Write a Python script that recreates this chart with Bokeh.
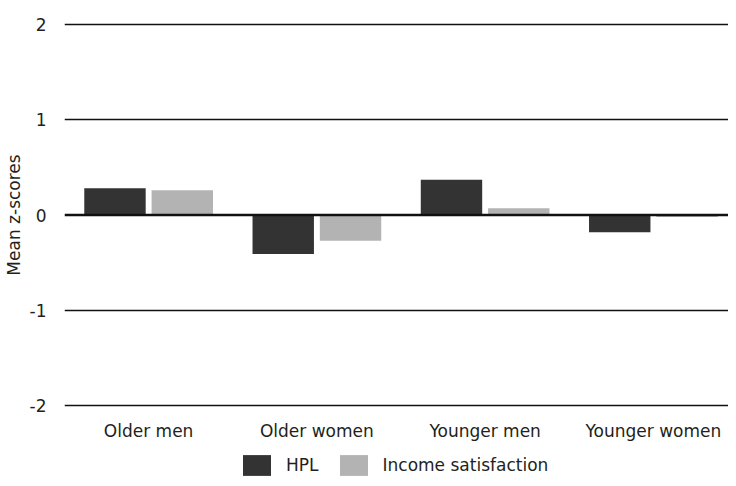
from bokeh.plotting import figure
from bokeh.layouts import column
from bokeh.models import Range1d, FixedTicker, Span, Legend, LegendItem, ColumnDataSource
from bokeh.transform import dodge
from bokeh.embed import file_html
from bokeh.resources import INLINE

categories = ["Older men", "Older women", "Younger men", "Younger women"]
hpl = [0.28, -0.41, 0.37, -0.18]
income = [0.26, -0.27, 0.07, -0.02]
y_ticks = [-2, -1, 0, 1, 2]
series = ["HPL", "Income satisfaction"]
colors = ["#333333", "#b3b3b3"]

x_pos = [i + 0.5 for i in range(len(categories))]
src = ColumnDataSource(dict(x=x_pos, hpl=hpl, income=income))

FONT = "DejaVu Sans"
TXT = "#231f20"

p = figure(width=728, height=443,
           x_range=Range1d(0, 663 / 168), y_range=Range1d(-2.02, 2.02),
           output_backend="svg", toolbar_location=None,
           min_border_left=57, min_border_top=22, min_border_right=0,
           min_border_bottom=36)
p.outline_line_color = None

p.vbar(x=dodge("x", -0.2, range=p.x_range), top="hpl", width=0.365,
       source=src, fill_color=colors[0], line_color=None)
p.vbar(x=dodge("x", 0.2, range=p.x_range), top="income", width=0.365,
       source=src, fill_color=colors[1], line_color=None)

p.add_layout(Span(location=0, dimension="width", line_color="#111111", line_width=2.5))

p.xgrid.visible = False
p.ygrid.ticker = FixedTicker(ticks=[t for t in y_ticks if t != 0])
p.ygrid.grid_line_color = "#111111"
p.ygrid.grid_line_width = 1.5

p.yaxis.ticker = FixedTicker(ticks=y_ticks)
p.yaxis.major_label_overrides = {t: str(t) for t in y_ticks}
p.yaxis.axis_label = "Mean z-scores"
p.xaxis.ticker = FixedTicker(ticks=x_pos)
p.xaxis.major_label_overrides = {x: c for x, c in zip(x_pos, categories)}

for ax in (p.xaxis[0], p.yaxis[0]):
    ax.axis_line_color = None
    ax.major_tick_line_color = None
    ax.minor_tick_line_color = None
    ax.major_label_text_font = FONT
    ax.major_label_text_color = TXT
    ax.axis_label_text_font = FONT
    ax.axis_label_text_color = TXT
    ax.axis_label_text_font_style = "normal"

p.xaxis.major_label_text_font_size = "17px"
p.xaxis.major_label_standoff = 7
p.yaxis.major_label_text_font_size = "17px"
p.yaxis.major_label_standoff = 12
p.yaxis.axis_label_text_font_size = "17px"
p.yaxis.axis_label_standoff = 3

# legend strip below the chart (its renderers sit outside its own visible range)
lf = figure(width=728, height=35, output_backend="svg", toolbar_location=None,
            x_axis_location=None, y_axis_location=None,
            min_border_left=0, min_border_right=0, min_border_top=0, min_border_bottom=0,
            x_range=Range1d(100, 101), y_range=Range1d(100, 101))
lf.outline_line_color = None
lf.xgrid.visible = False
lf.ygrid.visible = False
items = []
for name, col, field in zip(series, colors, ["hpl", "income"]):
    r = lf.vbar(x="x", top=field, width=0.365, source=src, fill_color=col, line_color=None)
    items.append(LegendItem(label=name, renderers=[r]))

legend = Legend(items=items, location=(175, 0), orientation="horizontal",
                glyph_width=35, glyph_height=26, label_standoff=12, spacing=17,
                padding=0, margin=0, border_line_color=None, background_fill_alpha=0,
                label_text_font=FONT, label_text_font_size="17px", label_text_color=TXT,
                label_height=26)
lf.add_layout(legend, "center")

layout = column(p, lf, spacing=0)
open("out.html", "w").write(file_html(layout, INLINE))
